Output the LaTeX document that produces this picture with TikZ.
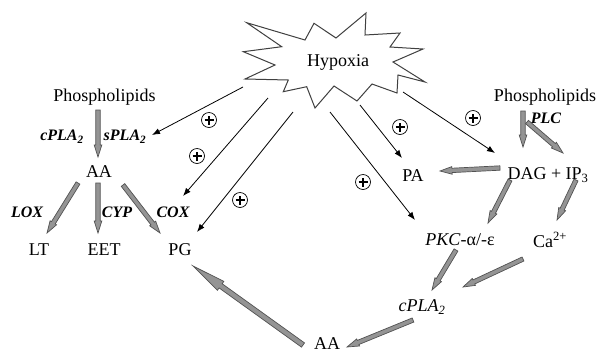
\documentclass[tikz,border=0pt]{standalone}
\usepackage{fontspec}
\setmainfont{Liberation Serif}
\usetikzlibrary{calc,arrows.meta}
\newcommand\garr[5]{%
  \coordinate (gB) at ($(#2)!#5!(#1)$);
  \draw[garrowstyle] ($(#1)!#3!90:(#2)$) -- ($(gB)!#3!90:(#2)$) -- ($(gB)!#4!90:(#2)$) -- (#2)
    -- ($(gB)!#4!-90:(#2)$) -- ($(gB)!#3!-90:(#2)$) -- ($(#1)!#3!-90:(#2)$) -- cycle;}
\begin{document}
\begin{tikzpicture}[x=1pt,y=-1pt,
  txt/.style={inner sep=0pt, font=\fontsize{18}{20}\selectfont},
  enz/.style={inner sep=0pt, font=\fontsize{16}{18}\selectfont\bfseries\itshape},
  thinarr/.style={line width=0.8pt, -{Latex[length=8pt,width=6pt]}},
  garrowstyle/.style={draw=black!68, fill=black!42, line width=0.7pt, line join=miter},
  plus/.style={circle, draw, line width=0.7pt, minimum size=15pt, inner sep=0pt,
    path picture={\draw[line width=2.2pt]
      ([xshift=-4.5pt]path picture bounding box.center) -- ([xshift=4.5pt]path picture bounding box.center)
      ([yshift=-4.5pt]path picture bounding box.center) -- ([yshift=4.5pt]path picture bounding box.center);}}
]
\useasboundingbox[fill=white] (0,0) rectangle (601,354);

% star
\draw[draw=black!75, line width=1pt, fill=white]
  (246.7,22.7) -- (305,40) -- (314,23.3) -- (336,38) -- (366,13) -- (365,35)
  -- (400,33) -- (390,47) -- (423,49) -- (393,62) -- (425,82) -- (398,75)
  -- (397,93) -- (372,84) -- (357,101) -- (334,86) -- (315,108) -- (306.7,86.7)
  -- (283.3,91.7) -- (288.3,80) -- (245,79) -- (275,65) -- (243.3,51.7) -- (281.7,46.7) -- cycle;
\node[txt] (Hyp) at (338,62) {Hypoxia};

% texts left
\node[txt] (PhL) at (104.5,97) {Phospholipids};
\node[enz] (cPLAl) at (62,137) {cPLA\textsubscript{2}};
\node[enz] (sPLA) at (125,137) {sPLA\textsubscript{2}};
\node[txt] (AAl) at (99,172) {AA};
\node[enz] (LOX) at (27,212) {LOX};
\node[enz] (CYP) at (117,212) {CYP};
\node[enz] (COX) at (173,212) {COX};
\node[txt] (LT) at (39,250) {LT};
\node[txt] (EET) at (104,250) {EET};
\node[txt] (PG) at (180,250) {PG};

% texts right
\node[txt] (PA) at (413,176) {PA};
\node[txt] (PhR) at (545,97) {Phospholipids};
\node[enz] (PLC) at (546,118) {PLC};
\node[txt] (DAG) at (548,175) {DAG + IP\textsubscript{3}};
\node[txt] (PKC) at (460,240) {\textit{PKC}-α/-ε};
\node[txt] (Ca) at (550,240) {Ca\textsuperscript{2+}};
\node[txt] (cPLAr) at (422,307) {\textit{cPLA\textsubscript{2}}};
\node[txt] (AAb) at (327,344) {AA};

% thin arrows from hypoxia
\coordinate (h1) at (243,87);  \coordinate (t1) at (152,135);
\coordinate (h2) at (268,98);  \coordinate (t2) at (183,196);
\coordinate (h3) at (293,112); \coordinate (t3) at (197,232);
\coordinate (h4) at (360,105); \coordinate (t4) at (402,158);
\coordinate (h5) at (330,112); \coordinate (t5) at (415,220);
\coordinate (h6) at (403,92);  \coordinate (t6) at (495,153);
\foreach \i in {1,...,6} \draw[thinarr] (h\i) -- (t\i);

\node[plus] (p1) at (209,120) {};
\node[plus] (p2) at (197,156) {};
\node[plus] (p3) at (240,200) {};
\node[plus] (p4) at (400,127) {};
\node[plus] (p5) at (363,182) {};
\node[plus] (p6) at (473,118) {};

% gray arrows
\coordinate (a1) at (98,110);  \coordinate (b1) at (98,157);
\coordinate (a2) at (78,183);  \coordinate (b2) at (47,233);
\coordinate (a3) at (98,183);  \coordinate (b3) at (98,233);
\coordinate (a4) at (123,185); \coordinate (b4) at (160,233);
\coordinate (a5) at (303,345); \coordinate (b5) at (193,266);
\coordinate (a6) at (523,111); \coordinate (b6) at (523,147);
\coordinate (a7) at (527,122); \coordinate (b7) at (563,153);
\coordinate (a8) at (500,168); \coordinate (b8) at (440,171);
\coordinate (a9) at (510,180); \coordinate (b9) at (488,223);
\coordinate (a10) at (576,180); \coordinate (b10) at (557,220);
\coordinate (a11) at (456,250); \coordinate (b11) at (432,290);
\coordinate (a12) at (523,259); \coordinate (b12) at (463,287);
\coordinate (a13) at (413,320); \coordinate (b13) at (347,347);
\garr{a1}{b1}{2.2pt}{3.8pt}{12pt}
\garr{a2}{b2}{2.2pt}{3.8pt}{12pt}
\garr{a3}{b3}{2.2pt}{3.8pt}{12pt}
\garr{a4}{b4}{2.2pt}{3.8pt}{12pt}
\garr{a5}{b5}{2.6pt}{5.5pt}{34pt}
\garr{a6}{b6}{2.2pt}{3.8pt}{12pt}
\garr{a7}{b7}{2.2pt}{3.8pt}{12pt}
\garr{a8}{b8}{2.2pt}{3.8pt}{12pt}
\garr{a9}{b9}{2.2pt}{3.8pt}{12pt}
\garr{a10}{b10}{2.2pt}{3.8pt}{12pt}
\garr{a11}{b11}{2.2pt}{3.8pt}{12pt}
\garr{a12}{b12}{2.2pt}{3.8pt}{12pt}
\garr{a13}{b13}{2.2pt}{3.8pt}{12pt}
\end{tikzpicture}
\end{document}
